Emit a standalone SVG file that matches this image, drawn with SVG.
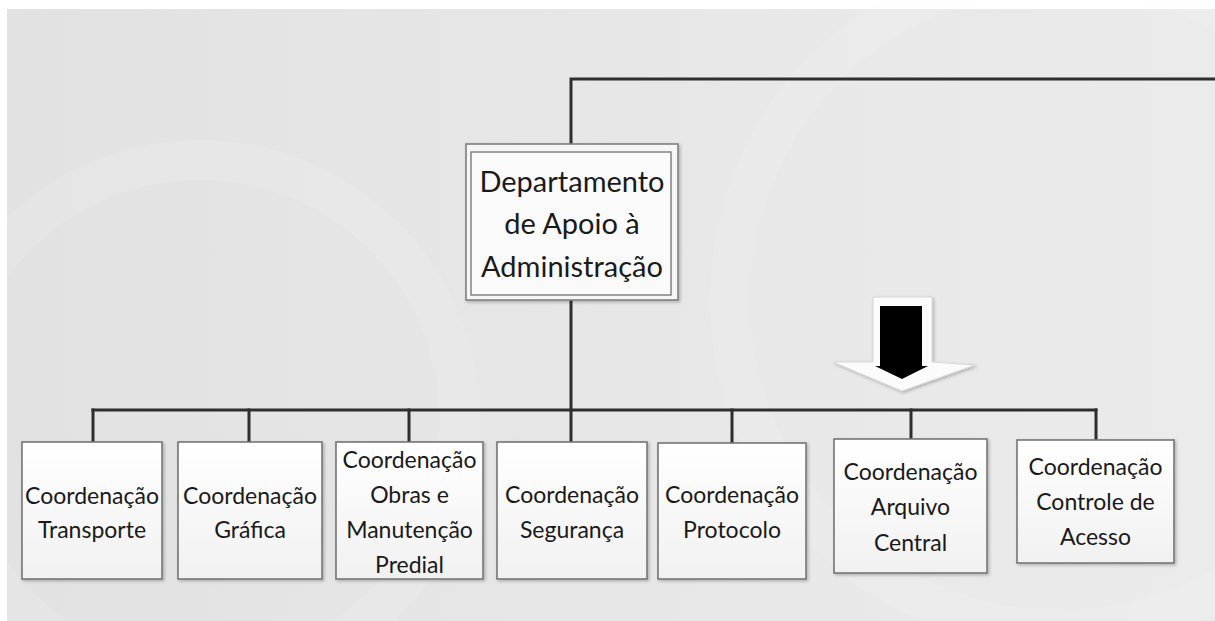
<svg xmlns="http://www.w3.org/2000/svg" width="1215" height="621" viewBox="0 0 1215 621">
<defs>
<style>
.conn{stroke:#2e2e2e;stroke-width:3;fill:none;stroke-linecap:square}
.box{fill:url(#boxg);stroke:#767676;stroke-width:1.6}
.t{font-family:Lato,"Liberation Sans",sans-serif;font-size:23px;fill:#1a1a1a;text-anchor:middle}
.big{font-family:Lato,"Liberation Sans",sans-serif;font-size:29px;fill:#1a1a1a;text-anchor:middle}
</style>
<linearGradient id="boxg" x1="0" y1="0" x2="0" y2="1">
<stop offset="0" stop-color="#ffffff"/>
<stop offset="1" stop-color="#f1f1f1"/>
</linearGradient>
<linearGradient id="bg" x1="0" y1="0" x2="1" y2="0">
<stop offset="0" stop-color="#e2e2e2"/>
<stop offset="0.5" stop-color="#e7e7e7"/>
<stop offset="1" stop-color="#ebebeb"/>
</linearGradient>
<filter id="sh" x="-10%" y="-10%" width="130%" height="130%">
<feDropShadow dx="1.5" dy="1.5" stdDeviation="1.5" flood-color="#000" flood-opacity="0.25"/>
</filter>
</defs>
<rect x="0" y="0" width="1215" height="621" fill="#ffffff"/>
<rect x="7" y="9" width="1208" height="612" fill="url(#bg)"/>
<g opacity="0.15" fill="none" stroke="#f6f6f6" stroke-width="40">
<circle cx="1060" cy="300" r="330"/>
<circle cx="200" cy="420" r="260"/>
</g>

<g id="connectors">
<polyline class="conn" points="571,144 571,79 1215,79"/>
<line class="conn" x1="571" y1="300" x2="571" y2="410"/>
<line class="conn" x1="93" y1="410" x2="1096" y2="410"/>
<line class="conn" x1="93" y1="410" x2="93" y2="442"/>
<line class="conn" x1="249" y1="410" x2="249" y2="442"/>
<line class="conn" x1="409" y1="410" x2="409" y2="442"/>
<line class="conn" x1="571" y1="410" x2="571" y2="442"/>
<line class="conn" x1="732" y1="410" x2="732" y2="443"/>
<line class="conn" x1="911" y1="410" x2="911" y2="439"/>
<line class="conn" x1="1096" y1="410" x2="1096" y2="440"/>
</g>

<g id="dept">
<rect x="466" y="144" width="212" height="156" fill="#f6f6f6" stroke="#808080" stroke-width="1.6" filter="url(#sh)"/>
<rect x="471" y="152" width="200" height="143" fill="#fafafa" stroke="#7a7a7a" stroke-width="1.4"/>
<text class="big" x="572" y="192">Departamento</text>
<text class="big" x="572" y="234">de Apoio à</text>
<text class="big" x="572" y="277">Administração</text>
</g>

<g id="arrow">
<polygon points="873,297 932,297 932,362 975,365 902,391 833,362 873,362" fill="#fbfbfb" stroke="#d6d6d6" stroke-width="1" filter="url(#sh)"/>
<polygon points="880,306 922,306 922,366 928,366 902,379 875,366 880,366" fill="#000000"/>
</g>

<g id="transporte">
<rect class="box" x="22" y="442" width="140" height="137" filter="url(#sh)"/>
<text class="t" x="92" y="504">Coordenação</text>
<text class="t" x="92" y="538">Transporte</text>
</g>
<g id="grafica">
<rect class="box" x="178" y="442" width="144" height="137" filter="url(#sh)"/>
<text class="t" x="250" y="504">Coordenação</text>
<text class="t" x="250" y="538">Gráfica</text>
</g>
<g id="obras">
<rect class="box" x="336" y="442" width="147" height="137" filter="url(#sh)"/>
<text class="t" x="409.5" y="468">Coordenação</text>
<text class="t" x="409.5" y="503">Obras e</text>
<text class="t" x="409.5" y="538">Manutenção</text>
<text class="t" x="409.5" y="573">Predial</text>
</g>
<g id="seguranca">
<rect class="box" x="497" y="442" width="150" height="137" filter="url(#sh)"/>
<text class="t" x="572" y="503">Coordenação</text>
<text class="t" x="572" y="538">Segurança</text>
</g>
<g id="protocolo">
<rect class="box" x="658" y="443" width="148" height="136" filter="url(#sh)"/>
<text class="t" x="732" y="503">Coordenação</text>
<text class="t" x="732" y="538">Protocolo</text>
</g>
<g id="arquivo">
<rect class="box" x="834" y="439" width="153" height="134" filter="url(#sh)"/>
<text class="t" x="910.5" y="480">Coordenação</text>
<text class="t" x="910.5" y="515">Arquivo</text>
<text class="t" x="910.5" y="551">Central</text>
</g>
<g id="controle">
<rect class="box" x="1017" y="440" width="157" height="123" filter="url(#sh)"/>
<text class="t" x="1095.5" y="475">Coordenação</text>
<text class="t" x="1095.5" y="510">Controle de</text>
<text class="t" x="1095.5" y="545">Acesso</text>
</g>
</svg>
